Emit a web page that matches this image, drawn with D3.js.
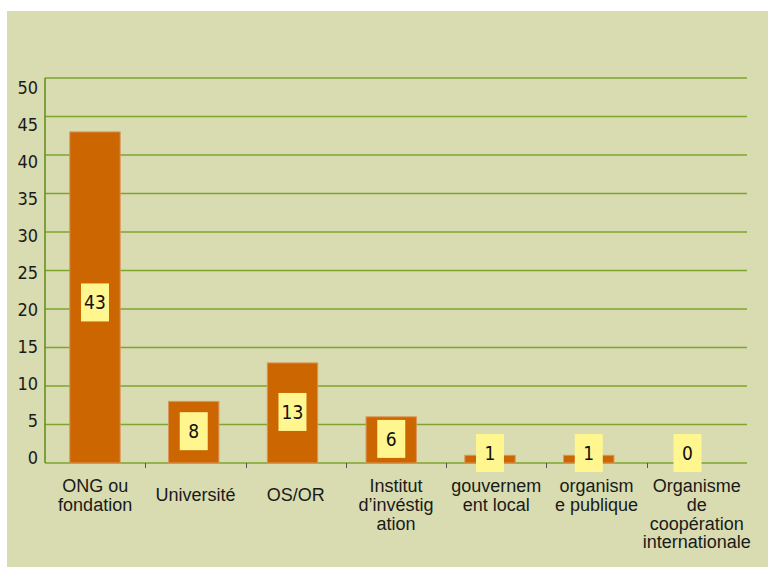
<!DOCTYPE html>
<html>
<head>
<meta charset="utf-8">
<script src="https://cdn.jsdelivr.net/npm/d3@7"></script>
<style>
  html, body { margin: 0; padding: 0; background: #fff; }
  svg { display: block; }
</style>
</head>
<body>
<svg id="chart" width="768" height="567"></svg>
<script>
// categories (line breaks as in the original)
const categories = [
  ['ONG ou', 'fondation'],
  ['Université'],
  ['OS/OR'],
  ['Institut', 'd\u2019invéstig', 'ation'],
  ['gouvernem', 'ent local'],
  ['organism', 'e publique'],
  ['Organisme', 'de', 'coopération', 'internationale']
];
const values = [43, 8, 13, 6, 1, 1, 0];
const yTicks = [0, 5, 10, 15, 20, 25, 30, 35, 40, 45, 50];

const keys = categories.map(c => c.join(' '));

const svg = d3.select('#chart');

// panel background
svg.append('rect')
  .attr('x', 7).attr('y', 11)
  .attr('width', 761).attr('height', 556)
  .attr('fill', '#d8dcb0');

const plotLeft = 45, plotRight = 747, plotTop = 78, plotBottom = 463;

// category slots (for the axis ticks and labels)
const xAxis = d3.scaleBand()
  .domain(keys)
  .range([plotLeft, plotRight]);

// bars are spaced slightly tighter than the slots in the original
const x = d3.scaleBand()
  .domain(keys)
  .range([45.6, 736.9])
  .paddingInner(0.49)
  .paddingOuter(0.245);

const y = d3.scaleLinear().domain([0, 50]).range([plotBottom, plotTop]);
// tick labels sit a little off the gridlines in the original
const yLabel = d3.scaleLinear().domain([0, 50]).range([458, 88]);

// gridlines
svg.append('g')
  .selectAll('line')
  .data(yTicks)
  .join('line')
  .attr('x1', plotLeft).attr('x2', plotRight)
  .attr('y1', d => y(d)).attr('y2', d => y(d))
  .attr('stroke', '#7ea52e')
  .attr('stroke-width', 1.6);

// y labels
svg.append('g')
  .selectAll('text')
  .data(yTicks)
  .join('text')
  .attr('x', 38)
  .attr('y', d => yLabel(d))
  .attr('dy', '0.36em')
  .attr('text-anchor', 'end')
  .attr('font-family', '"DejaVu Sans Condensed", "DejaVu Sans", sans-serif')
  .attr('font-size', 18)
  .attr('fill', '#1a1a1a')
  .text(d => d);

// left axis line
svg.append('line')
  .attr('x1', plotLeft).attr('x2', plotLeft)
  .attr('y1', plotTop).attr('y2', plotBottom)
  .attr('stroke', '#5e8c14').attr('stroke-width', 1.5);

// x ticks between categories
const tickX = d => Math.round(xAxis(d)) + 0.5;
svg.append('g')
  .selectAll('line')
  .data(keys.slice(1))
  .join('line')
  .attr('x1', tickX)
  .attr('x2', tickX)
  .attr('y1', plotBottom).attr('y2', plotBottom + 5)
  .attr('stroke', '#555').attr('stroke-width', 1);

// bars
svg.append('g')
  .selectAll('rect')
  .data(values)
  .join('rect')
  .attr('x', (d, i) => x(keys[i]))
  .attr('y', d => y(d))
  .attr('width', x.bandwidth())
  .attr('height', d => plotBottom - y(d))
  .attr('fill', '#cc6600')
  .attr('stroke', '#d9965c')
  .attr('stroke-width', d => d > 0 ? 1 : 0);

// value boxes
const boxW = 28, boxH = 38;
const boxCy = d => Math.min((y(d) + plotBottom) / 2 + (d > 30 ? 5 : -1), 453);
const lbl = svg.append('g')
  .selectAll('g')
  .data(values)
  .join('g')
  .attr('transform', (d, i) => `translate(${x(keys[i]) + x.bandwidth() / 2},${boxCy(d)})`);
lbl.append('rect')
  .attr('x', -boxW / 2).attr('y', -boxH / 2)
  .attr('width', boxW).attr('height', boxH)
  .attr('fill', '#fff68f');
lbl.append('text')
  .attr('text-anchor', 'middle')
  .attr('dy', '0.36em')
  .attr('font-family', '"DejaVu Sans Condensed", "DejaVu Sans", sans-serif')
  .attr('font-size', 19)
  .attr('fill', '#111')
  .text(d => d);

// category labels
const cat = svg.append('g')
  .selectAll('text')
  .data(categories)
  .join('text')
  .attr('text-anchor', 'middle')
  .attr('font-family', '"Liberation Sans", Arial, sans-serif')
  .attr('font-size', 18)
  .attr('fill', '#1a1a1a');
cat.each(function(lines, i) {
  const cx = xAxis(keys[i]) + xAxis.bandwidth() / 2;
  const y0 = lines.length === 1 ? 495 : 486;
  d3.select(this).selectAll('tspan')
    .data(lines)
    .join('tspan')
    .attr('x', cx)
    .attr('y', (t, j) => y0 + j * 18.6)
    .attr('dy', '0.35em')
    .text(t => t);
});
</script>
</body>
</html>
